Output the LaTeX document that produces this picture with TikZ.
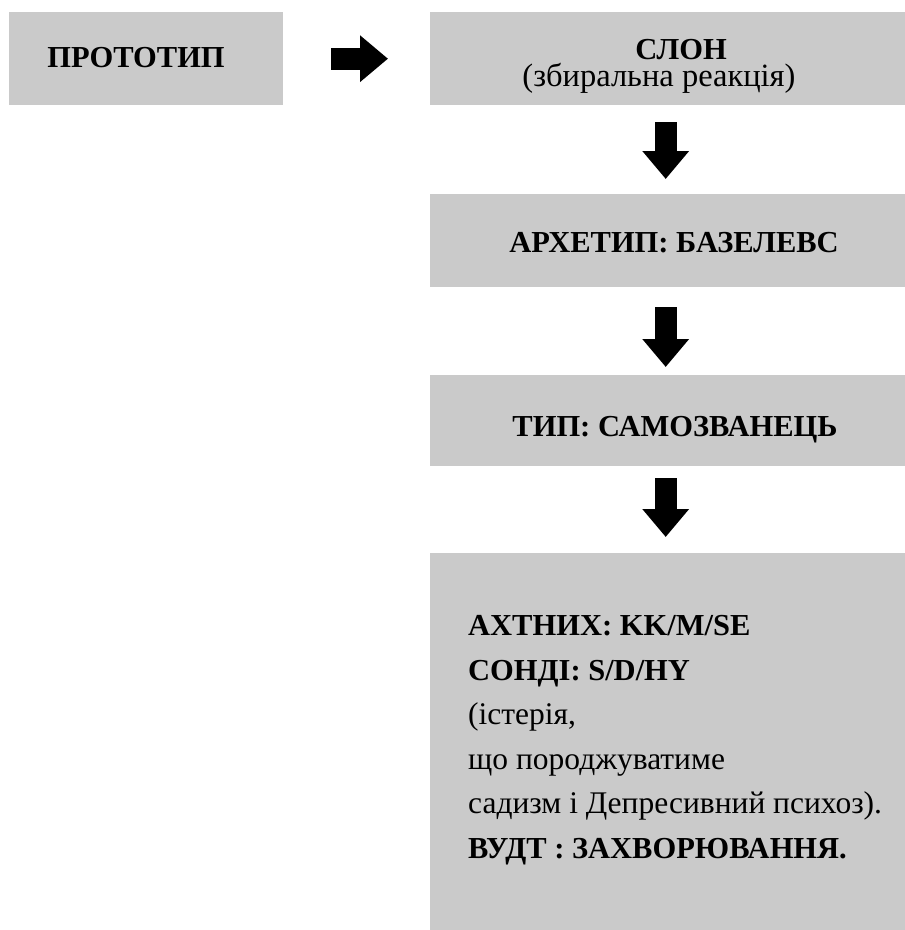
\documentclass[tikz,border=0pt]{standalone}
\usepackage{fontspec}
\setmainfont{Liberation Serif}
\usetikzlibrary{arrows.meta}
\definecolor{boxgray}{RGB}{202,202,202}
\newcommand{\headfont}{\fontsize{30.5}{36}\selectfont\bfseries}
\tikzset{
  box/.style={fill=boxgray, draw=none, inner sep=0pt, anchor=north west},
  boxtext/.style={font=\headfont, inner sep=0pt, align=center},
  blockarrow/.style={line width=22pt, line cap=butt,
    -{Triangle[length=28pt, width=45pt]}, black}
}
\begin{document}
\begin{tikzpicture}[x=1pt, y=-1pt]
  \useasboundingbox (0,0) rectangle (905,930);

  % grey boxes
  \node[box, minimum width=274pt, minimum height=93pt] (proto) at (9,12) {};
  \node[box, minimum width=475pt, minimum height=93pt] (slon) at (430,12) {};
  \node[box, minimum width=475pt, minimum height=93pt] (arche) at (430,194) {};
  \node[box, minimum width=475pt, minimum height=91pt] (typ) at (430,375) {};
  \node[box, minimum width=475pt, minimum height=377pt] (detail) at (430,553) {};

  % box labels
  \node[boxtext, anchor=base] (protolbl) at (136,67) {ПРОТОТИП};
  \node[inner sep=0pt, anchor=north, align=center,
        font={\fontsize{32.5}{27.5}\selectfont}] (slonlbl) at (659,39) {%
    \hspace*{44pt}{\fontsize{30.5}{27.5}\selectfont\bfseries СЛОН}\\
    (збиральна реакція)};
  \node[boxtext, anchor=base] (archelbl) at (674,252) {АРХЕТИП: БАЗЕЛЕВС};
  \node[boxtext, anchor=base] (typlbl) at (675,436) {ТИП: САМОЗВАНЕЦЬ};

  \node[inner sep=0pt, anchor=north west, align=left,
        font={\fontsize{31.5}{44.6}\selectfont}] (details) at (468,615) {%
    {\headfont АХТНИХ: KK/M/SE}\\
    {\headfont СОНДІ: S/D/HY}\\
    (істерія,\\
    що породжуватиме\\
    садизм і Депресивний психоз).\\
    {\headfont ВУДТ : ЗАХВОРЮВАННЯ.}};

  % block arrows
  \draw[blockarrow] ([xshift=48pt]proto.east) -- ([xshift=-42pt]slon.west);
  \draw[blockarrow] ([xshift=-2pt, yshift=-17pt]slon.south) -- ([xshift=-2pt, yshift=15pt]arche.north);
  \draw[blockarrow] ([xshift=-2pt, yshift=-20pt]arche.south) -- ([xshift=-2pt, yshift=8pt]typ.north);
  \draw[blockarrow] ([xshift=-2pt, yshift=-12pt]typ.south) -- ([xshift=-2pt, yshift=16pt]detail.north);
\end{tikzpicture}
\end{document}
